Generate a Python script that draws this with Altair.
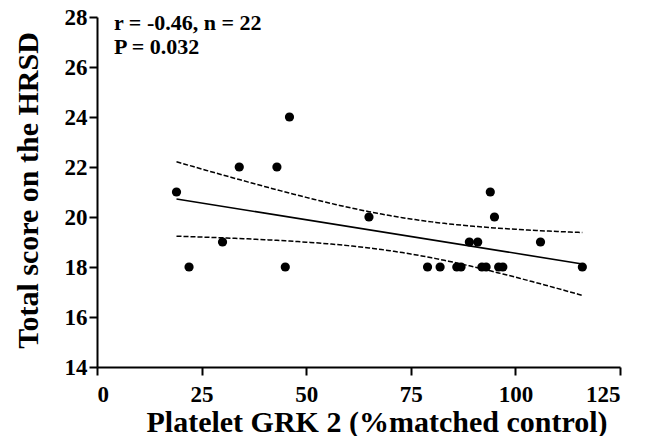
import altair as alt
import numpy as np
import pandas as pd

# Data
grk2 = [46, 34, 43, 19, 30, 22, 45, 65, 94, 95, 89, 91, 106, 79, 82, 86, 87, 92, 93, 96, 97, 116]
hrsd = [24, 22, 22, 21, 19, 18, 18, 20, 21, 20, 19, 19, 19, 18, 18, 18, 18, 18, 18, 18, 18, 18]
x_ticks = [0, 25, 50, 75, 100, 125]
y_ticks = [14, 16, 18, 20, 22, 24, 26, 28]
annotation = ["r = -0.46, n = 22", "P = 0.032"]
x_title = "Platelet GRK 2 (%matched control)"
y_title = "Total score on the HRSD"

df = pd.DataFrame({"x": grk2, "y": hrsd})

# 95% confidence band of the OLS fit, computed from the data
xa = np.array(grk2, float)
ya = np.array(hrsd, float)
n = len(xa)
mx, my = xa.mean(), ya.mean()
sxx = ((xa - mx) ** 2).sum()
b = ((xa - mx) * (ya - my)).sum() / sxx
a = my - b * mx
s = np.sqrt(((ya - (a + b * xa)) ** 2).sum() / (n - 2))
t_crit = 2.086  # t(0.975, df=20)
xg = np.linspace(xa.min(), xa.max(), 98)
se = s * np.sqrt(1.0 / n + (xg - mx) ** 2 / sxx)
fit = a + b * xg
ci = pd.DataFrame({
    "x": np.concatenate([xg, xg]),
    "y": np.concatenate([fit + t_crit * se, fit - t_crit * se]),
    "band": ["upper"] * len(xg) + ["lower"] * len(xg),
})

FONT = "Liberation Serif"

xscale = alt.Scale(domain=[0, 125], nice=False, zero=False)
yscale = alt.Scale(domain=[14, 28], nice=False, zero=False)

common = dict(
    labelFont=FONT, labelFontSize=23, labelFontWeight=700, labelColor="black",
    titleFont=FONT, titleFontWeight=700, titleColor="black", titleFontSize=30,
    domainColor="black", domainWidth=2, tickColor="black", tickWidth=2, tickSize=8,
    grid=False,
)

x_enc = alt.X(
    "x:Q", scale=xscale,
    axis=alt.Axis(values=x_ticks, title=x_title, labelPadding=8,
                  titleX=279.5, titleY=64, titleAlign="center",
                  titleBaseline="alphabetic", **common),
)
y_enc = alt.Y(
    "y:Q", scale=yscale,
    axis=alt.Axis(values=y_ticks, title=y_title, labelPadding=2,
                  titleX=-60, titleY=173, titleAngle=270, titleAlign="center",
                  titleBaseline="alphabetic", **common),
)

points = alt.Chart(df).mark_point(filled=True, color="black", size=85, opacity=1).encode(
    x=x_enc, y=y_enc
)

reg = alt.Chart(df).transform_regression("x", "y").mark_line(
    color="black", strokeWidth=1.6
).encode(x=alt.X("x:Q", scale=xscale), y=alt.Y("y:Q", scale=yscale))

band = alt.Chart(ci).mark_line(color="black", strokeWidth=1.5, strokeDash=[5, 2]).encode(
    x=alt.X("x:Q", scale=xscale), y=alt.Y("y:Q", scale=yscale), detail="band:N"
)

text = alt.Chart(pd.DataFrame({"k": [0]})).mark_text(
    align="left", baseline="alphabetic", font=FONT, fontSize=22,
    fontWeight="bold", color="black", lineHeight=24,
).encode(x=alt.value(17), y=alt.value(13), text=alt.value(annotation))

chart = alt.layer(band, reg, points, text).properties(
    width=523, height=350,
    autosize=alt.AutoSizeParams(type="none"),
    padding={"left": 89, "top": 9, "right": 20, "bottom": 69},
).configure_view(stroke=None).configure_axis(labelFontWeight=700)

chart.save("out.html", embed_options={"renderer": "svg", "actions": False})
